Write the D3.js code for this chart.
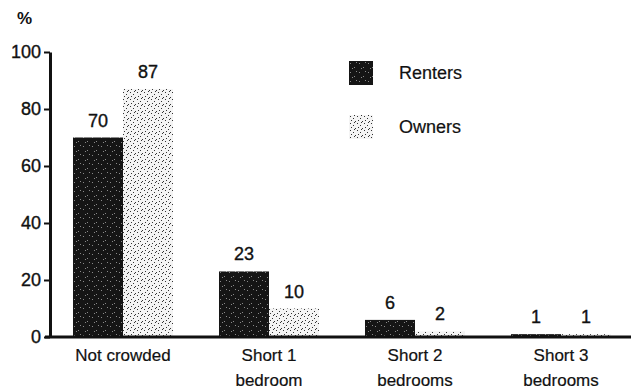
<!DOCTYPE html>
<html>
<head>
<meta charset="utf-8">
<script src="https://cdn.jsdelivr.net/npm/d3@7"></script>
<style>
	body { margin: 0; background: #fff; }
	text { font-family: Arial, 'Liberation Sans', sans-serif; fill: #111; stroke: #111; stroke-width: 0.35px; }
</style>
</head>
<body>
<div id="chart"></div>
<script>
// values
const categories = [['Not crowded'], ['Short 1', 'bedroom'], ['Short 2', 'bedrooms'], ['Short 3', 'bedrooms']]
const series = ['Renters', 'Owners']
const renters = [70, 23, 6, 1]
const owners = [87, 10, 2, 1]
const yTicks = [0, 20, 40, 60, 80, 100]

const width = 631
const height = 391
const margin = { top: 52, right: -3, bottom: 54, left: 50 }

const svg = d3
	.select('#chart')
	.append('svg')
	.attr('width', width)
	.attr('height', height)

// scanned look: dark speckled and light speckled fills
const defs = svg.append('defs')

const dark = defs
	.append('pattern')
	.attr('id', 'renters')
	.attr('patternUnits', 'userSpaceOnUse')
	.attr('width', 9)
	.attr('height', 9)
dark.append('rect').attr('width', 9).attr('height', 9).attr('fill', '#151515')
;[[1, 2], [5, 6], [7, 1], [3, 7]].forEach(p =>
	dark.append('rect').attr('x', p[0]).attr('y', p[1]).attr('width', 1).attr('height', 1).attr('fill', '#8a8a8a')
)

const light = defs
	.append('pattern')
	.attr('id', 'owners')
	.attr('patternUnits', 'userSpaceOnUse')
	.attr('width', 7)
	.attr('height', 7)
light.append('rect').attr('width', 7).attr('height', 7).attr('fill', '#f4f4f4')
;[[1, 1], [4, 3], [2, 5], [6, 6], [5, 0]].forEach(p =>
	light.append('rect').attr('x', p[0]).attr('y', p[1]).attr('width', 1).attr('height', 1).attr('fill', '#333')
)

const fills = { Renters: 'url(#renters)', Owners: 'url(#owners)' }

const x = d3
	.scaleBand()
	.domain(categories.map(d => d[0]))
	.range([margin.left, width - margin.right])
	.paddingInner(0.315)
	.paddingOuter(0.1575)

const x1 = d3.scaleBand().domain(series).range([0, x.bandwidth()])

const y = d3
	.scaleLinear()
	.domain([0, 100])
	.range([height - margin.bottom, margin.top])

const rows = categories.map((c, i) => ({
	cat: c[0],
	values: [
		{ key: 'Renters', value: renters[i] },
		{ key: 'Owners', value: owners[i] }
	]
}))

const groups = svg
	.append('g')
	.selectAll('g')
	.data(rows)
	.join('g')
	.attr('transform', d => `translate(${x(d.cat)},0)`)

groups
	.selectAll('rect')
	.data(d => d.values)
	.join('rect')
	.attr('x', d => x1(d.key))
	.attr('y', d => y(d.value))
	.attr('width', x1.bandwidth())
	.attr('height', d => y(0) - y(d.value))
	.attr('fill', d => fills[d.key])

groups
	.selectAll('text')
	.data(d => d.values)
	.join('text')
	.attr('x', d => x1(d.key) + x1.bandwidth() / 2)
	.attr('y', d => y(d.value) - 11)
	.attr('text-anchor', 'middle')
	.style('font-size', '18px')
	.text(d => d.value)

// y axis
svg
	.append('g')
	.attr('transform', `translate(${margin.left},0)`)
	.call(d3.axisLeft(y).tickValues(yTicks).tickSize(6).tickPadding(3).tickSizeOuter(0))
	.call(g => g.select('.domain').attr('stroke-width', 3).attr('stroke', '#111'))
	.call(g => g.selectAll('.tick line').attr('stroke-width', 2).attr('stroke', '#111'))
	.call(g => g.selectAll('.tick text').style('font-size', '18px').style('font-family', 'Arial, Liberation Sans, sans-serif').attr('fill', '#111'))

// x baseline
svg
	.append('line')
	.attr('x1', margin.left - 5)
	.attr('x2', width)
	.attr('y1', y(0))
	.attr('y2', y(0))
	.attr('stroke', '#111')
	.attr('stroke-width', 3)

// category labels
const catLabels = svg
	.append('g')
	.selectAll('text')
	.data(categories)
	.join('text')
	.attr('text-anchor', 'middle')
	.attr('x', d => x(d[0]) + x.bandwidth() / 2)
	.attr('y', y(0) + 24)
	.style('font-size', '17px')
	.style('stroke-width', '0.2px')

catLabels
	.selectAll('tspan')
	.data(d => d)
	.join('tspan')
	.attr('x', function () { return d3.select(this.parentNode).attr('x') })
	.attr('dy', (d, i) => (i ? 25 : 0))
	.text(d => d)

svg
	.append('text')
	.attr('x', 17)
	.attr('y', 24)
	.style('font-size', '17px')
	.style('font-weight', 'bold')
	.style('stroke-width', '0px')
	.text('%')

// legend
const legend = svg
	.append('g')
	.selectAll('g')
	.data(series)
	.join('g')
	.attr('transform', (d, i) => `translate(349,${61 + i * 54})`)

legend
	.append('rect')
	.attr('width', 24)
	.attr('height', 24)
	.attr('fill', d => fills[d])

legend
	.append('text')
	.attr('x', 50)
	.attr('y', 18)
	.style('font-size', '18px')
	.style('stroke-width', '0.2px')
	.text(d => d)
</script>
</body>
</html>
